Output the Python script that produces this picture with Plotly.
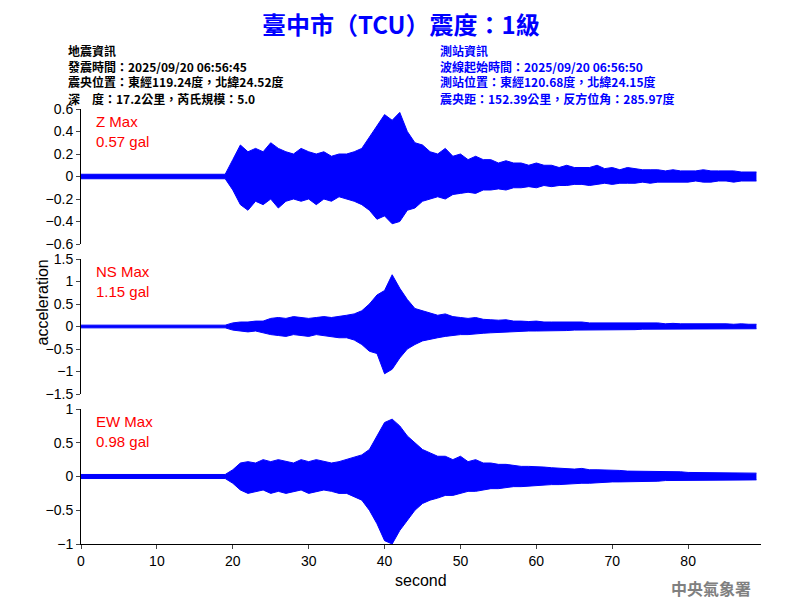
import plotly.graph_objects as go
from plotly.subplots import make_subplots

seconds = list(range(90))

z_upper = [0.02] * 20 + [0.15, 0.28, 0.22, 0.25, 0.22, 0.30, 0.25, 0.22, 0.20, 0.25,
                         0.22, 0.20, 0.22, 0.18, 0.20, 0.20, 0.22, 0.25, 0.35, 0.45,
                         0.55, 0.50, 0.57, 0.40, 0.30, 0.28, 0.22, 0.20, 0.25, 0.18,
                         0.20, 0.15, 0.18, 0.15, 0.15, 0.12, 0.14, 0.12, 0.12, 0.10,
                         0.12, 0.10, 0.10, 0.08, 0.10, 0.08, 0.08, 0.08, 0.10, 0.07,
                         0.08, 0.06, 0.08, 0.07, 0.06, 0.06, 0.06, 0.05, 0.06, 0.05,
                         0.05, 0.05, 0.06, 0.05, 0.05, 0.05, 0.05, 0.04, 0.04, 0.04]
z_lower = [-0.02] * 20 + [-0.12, -0.25, -0.30, -0.22, -0.25, -0.20, -0.28, -0.22, -0.20, -0.22,
                          -0.20, -0.25, -0.20, -0.22, -0.18, -0.20, -0.22, -0.25, -0.30, -0.38,
                          -0.35, -0.42, -0.40, -0.30, -0.28, -0.22, -0.20, -0.18, -0.20, -0.16,
                          -0.15, -0.14, -0.15, -0.12, -0.12, -0.11, -0.12, -0.10, -0.10, -0.09,
                          -0.10, -0.08, -0.09, -0.08, -0.08, -0.07, -0.07, -0.08, -0.07, -0.06,
                          -0.07, -0.06, -0.06, -0.06, -0.05, -0.06, -0.05, -0.05, -0.05, -0.05,
                          -0.05, -0.04, -0.05, -0.05, -0.04, -0.04, -0.05, -0.04, -0.04, -0.04]

ns_upper = [0.03] * 20 + [0.08, 0.10, 0.10, 0.12, 0.12, 0.18, 0.20, 0.18, 0.22, 0.20,
                          0.18, 0.20, 0.22, 0.20, 0.22, 0.25, 0.28, 0.35, 0.50, 0.70,
                          0.80, 1.15, 0.85, 0.60, 0.40, 0.35, 0.30, 0.25, 0.28, 0.22,
                          0.20, 0.18, 0.20, 0.16, 0.15, 0.14, 0.15, 0.12, 0.12, 0.11,
                          0.12, 0.10, 0.10, 0.10, 0.09, 0.09, 0.10, 0.08, 0.08, 0.08,
                          0.08, 0.07, 0.08, 0.07, 0.07, 0.07, 0.08, 0.06, 0.07, 0.06,
                          0.06, 0.06, 0.07, 0.06, 0.06, 0.06, 0.05, 0.06, 0.05, 0.05]
ns_lower = [-0.03] * 20 + [-0.08, -0.10, -0.12, -0.10, -0.14, -0.18, -0.20, -0.22, -0.18, -0.20,
                           -0.22, -0.18, -0.20, -0.22, -0.25, -0.25, -0.30, -0.40, -0.55, -0.60,
                           -1.05, -0.95, -0.70, -0.50, -0.40, -0.32, -0.28, -0.25, -0.22, -0.20,
                           -0.18, -0.18, -0.16, -0.15, -0.14, -0.13, -0.12, -0.12, -0.11, -0.10,
                           -0.10, -0.10, -0.09, -0.09, -0.09, -0.08, -0.08, -0.08, -0.08, -0.07,
                           -0.07, -0.07, -0.07, -0.07, -0.06, -0.06, -0.06, -0.06, -0.06, -0.06,
                           -0.06, -0.05, -0.06, -0.05, -0.05, -0.05, -0.05, -0.05, -0.05, -0.05]

ew_upper = [0.03] * 20 + [0.10, 0.20, 0.22, 0.20, 0.25, 0.22, 0.25, 0.22, 0.20, 0.25,
                          0.22, 0.25, 0.22, 0.20, 0.22, 0.25, 0.28, 0.32, 0.40, 0.60,
                          0.80, 0.85, 0.75, 0.60, 0.50, 0.40, 0.35, 0.30, 0.30, 0.25,
                          0.30, 0.22, 0.25, 0.20, 0.20, 0.18, 0.18, 0.16, 0.15, 0.15,
                          0.15, 0.14, 0.13, 0.12, 0.12, 0.11, 0.12, 0.10, 0.10, 0.10,
                          0.09, 0.09, 0.08, 0.08, 0.08, 0.08, 0.07, 0.07, 0.07, 0.07,
                          0.06, 0.06, 0.06, 0.06, 0.06, 0.05, 0.06, 0.05, 0.05, 0.05]
ew_lower = [-0.03] * 20 + [-0.10, -0.20, -0.25, -0.22, -0.20, -0.25, -0.22, -0.25, -0.22, -0.20,
                           -0.25, -0.22, -0.20, -0.22, -0.25, -0.25, -0.30, -0.35, -0.50, -0.70,
                           -0.95, -1.00, -0.80, -0.65, -0.50, -0.40, -0.35, -0.32, -0.28, -0.28,
                           -0.25, -0.22, -0.22, -0.20, -0.18, -0.18, -0.16, -0.15, -0.15, -0.14,
                           -0.13, -0.13, -0.12, -0.12, -0.11, -0.10, -0.10, -0.10, -0.09, -0.09,
                           -0.08, -0.08, -0.08, -0.07, -0.07, -0.07, -0.07, -0.06, -0.06, -0.06,
                           -0.06, -0.06, -0.05, -0.05, -0.05, -0.05, -0.05, -0.05, -0.05, -0.05]

components = ["Z", "NS", "EW"]
max_values = ["0.57", "1.15", "0.98"]
y_ranges = [[-0.6, 0.6], [-1.5, 1.5], [-1, 1]]
y_ticks = [[-0.6, -0.4, -0.2, 0, 0.2, 0.4, 0.6], [-1.5, -1, -0.5, 0, 0.5, 1, 1.5], [-1, -0.5, 0, 0.5, 1]]
envelopes = [(z_upper, z_lower), (ns_upper, ns_lower), (ew_upper, ew_lower)]

left_info = ["地震資訊", "發震時間：2025/09/20 06:56:45", "震央位置：東經119.24度，北緯24.52度",
             "深　度：17.2公里，芮氏規模：5.0"]
right_info = ["測站資訊", "波線起始時間：2025/09/20 06:56:50", "測站位置：東經120.68度，北緯24.15度",
              "震央距：152.39公里，反方位角：285.97度"]

# the page body adds ~7px offset; convert screen px to paper coords
OFF = 7
def px_x(px):
    return (px - OFF - 73) / 680
def px_y(py):
    return 1 - (py - OFF) / 600

blue = "rgb(0,0,255)"
fig = make_subplots(rows=3, cols=1, shared_xaxes=True)

for i, (upper, lower) in enumerate(envelopes):
    r = i + 1
    fig.add_trace(go.Scatter(x=seconds, y=lower, mode="lines", line=dict(color=blue, width=1),
                             showlegend=False), row=r, col=1)
    fig.add_trace(go.Scatter(x=seconds, y=upper, mode="lines", line=dict(color=blue, width=1),
                             fill="tonexty", fillcolor=blue, showlegend=False), row=r, col=1)

# panels on screen: 108-243, 258-393, 408-543 px
panels = [(108, 243), (258, 393), (408, 543)]
font = dict(family="Arial, Liberation Sans", size=14, color="black")
for i, (top, bot) in enumerate(panels):
    ax = "yaxis" if i == 0 else f"yaxis{i+1}"
    fig.layout[ax].update(domain=[px_y(bot), px_y(top)], range=y_ranges[i], tickvals=y_ticks[i],
                          showline=True, linecolor="black", ticks="outside", ticklen=4,
                          showgrid=False, zeroline=False, tickfont=font)
    xa = "xaxis" if i == 0 else f"xaxis{i+1}"
    fig.layout[xa].update(range=[0, 89.6], showgrid=False, zeroline=False,
                          showline=(i == 2), linecolor="black", ticks="outside" if i == 2 else "",
                          ticklen=4, tickvals=list(range(0, 90, 10)), tickfont=font,
                          showticklabels=(i == 2))
    fig.add_annotation(xref="paper", yref="paper", x=px_x(93), y=px_y(top + 2), xanchor="left", yanchor="top",
                       text=f"{components[i]} Max<br>{max_values[i]} gal", showarrow=False, align="left",
                       font=dict(family="Arial, Liberation Sans", size=15, color="red"))

fig.add_annotation(xref="paper", yref="paper", x=px_x(420), y=px_y(590), text="second", showarrow=False,
                   font=dict(family="Arial, Liberation Sans", size=16, color="black"))
fig.add_annotation(xref="paper", yref="paper", x=px_x(30), y=px_y(302), text="acceleration", textangle=-90,
                   showarrow=False, font=dict(family="Arial, Liberation Sans", size=16, color="black"))

cjk = "Noto Sans CJK TC"
fig.add_annotation(xref="paper", yref="paper", x=px_x(400), y=px_y(22), yanchor="middle",
                   text="<b>臺中市（TCU）震度：1級</b>", showarrow=False,
                   font=dict(family=cjk, size=24, color=blue))
for k in range(4):
    yk = px_y(49 + 16 * k)
    fig.add_annotation(xref="paper", yref="paper", x=px_x(65), y=yk, xanchor="left", yanchor="middle",
                       text="<b>" + left_info[k] + "</b>", showarrow=False,
                       font=dict(family=cjk, size=12, color="black"))
    fig.add_annotation(xref="paper", yref="paper", x=px_x(437), y=yk, xanchor="left", yanchor="middle",
                       text="<b>" + right_info[k] + "</b>", showarrow=False,
                       font=dict(family=cjk, size=12, color=blue))
fig.add_annotation(xref="paper", yref="paper", x=px_x(752), y=px_y(587), xanchor="right", yanchor="middle",
                   text="<b>中央氣象署</b>", showarrow=False, font=dict(family=cjk, size=16, color="gray"))

fig.update_layout(width=800, height=600, margin=dict(l=73, r=47, t=0, b=0, autoexpand=False),
                  plot_bgcolor="white", paper_bgcolor="white")

fig.write_html("out.html")
